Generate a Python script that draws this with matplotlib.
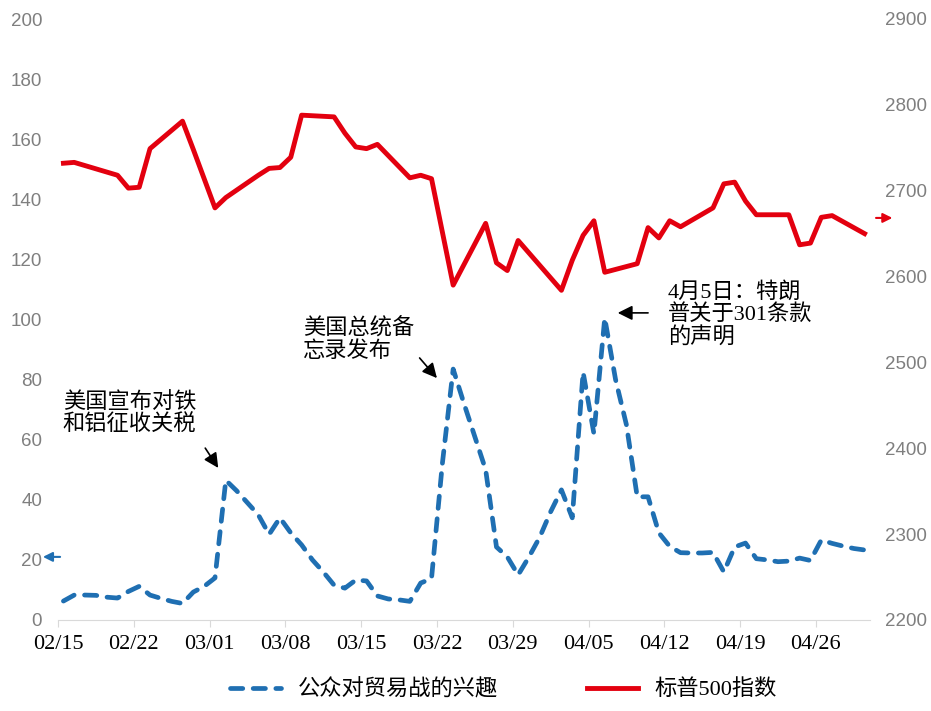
import pandas as pd
import matplotlib
matplotlib.use('Agg')
import matplotlib.pyplot as plt
import matplotlib.dates as mdates

# public interest in the trade war (daily, from 2018-02-15)
interest_start = '2018-02-15'
interest = [6.3, 8.3, 8.3, 8.2, 7.6, 7.3, 9.5, 11.2, 8.3, 7.2,
            6.2, 5.5, 9.3, 11.2, 14, 46.5, 43, 39, 35, 28.5,
            34, 29, 25, 20, 16, 11.6, 10.6, 13.3, 13, 8,
            7, 6.7, 6.2, 12.3, 13.8, 52, 83.5, 72, 61, 50,
            24.3, 21, 15, 21, 27.6, 36, 43.3, 34, 82.5, 62,
            100.5, 80, 65, 41, 41, 29, 24.5, 22.4, 22.3, 22.3,
            22.5, 16, 24.3, 25.6, 20.4, 20, 19.4, 19.6, 20.6, 19.8,
            26.6, 25.5, 24.6, 23.8, 23.3]

# S&P 500 close (trading days)
spx_dates = ['2018-02-15', '2018-02-16', '2018-02-20', '2018-02-21', '2018-02-22',
             '2018-02-23', '2018-02-26', '2018-02-27', '2018-02-28', '2018-03-01',
             '2018-03-02', '2018-03-05', '2018-03-06', '2018-03-07', '2018-03-08',
             '2018-03-09', '2018-03-12', '2018-03-13', '2018-03-14', '2018-03-15',
             '2018-03-16', '2018-03-19', '2018-03-20', '2018-03-21', '2018-03-22',
             '2018-03-23', '2018-03-26', '2018-03-27', '2018-03-28', '2018-03-29',
             '2018-04-02', '2018-04-03', '2018-04-04', '2018-04-05', '2018-04-06',
             '2018-04-09', '2018-04-10', '2018-04-11', '2018-04-12', '2018-04-13',
             '2018-04-16', '2018-04-17', '2018-04-18', '2018-04-19', '2018-04-20',
             '2018-04-23', '2018-04-24', '2018-04-25', '2018-04-26', '2018-04-27',
             '2018-04-30']
spx_close = [2732, 2733, 2718, 2703, 2704, 2749, 2781, 2748, 2714, 2680,
             2692, 2718, 2726, 2727, 2739, 2788, 2786, 2767, 2751, 2749,
             2754, 2715, 2718, 2714, 2652, 2590, 2662, 2616, 2607, 2642,
             2584, 2619, 2648, 2665, 2605, 2615, 2657, 2645, 2665, 2658,
             2680, 2708, 2710, 2688, 2672, 2672, 2637, 2639, 2669, 2671,
             2650]

tick_dates = ['2018-02-15', '2018-02-22', '2018-03-01', '2018-03-08', '2018-03-15',
              '2018-03-22', '2018-03-29', '2018-04-05', '2018-04-12', '2018-04-19',
              '2018-04-26']
series_labels = ['公众对贸易战的兴趣', '标普500指数']
notes = ['美国宣布对铁\n和铝征收关税', '美国总统备\n忘录发布', '4月5日：特朗\n普关于301条款\n的声明']

BLUE = '#1F6FB2'
RED = '#E3000F'
GRAY = '#7f7f7f'
serif_cjk = ['Liberation Serif', 'Noto Sans CJK SC']
plt.rcParams['font.family'] = serif_cjk

fig = plt.figure(figsize=(9.31, 7.11), dpi=100)
ax = fig.add_axes([58/931, 1-620/711, 812/931, 601/711])
ax2 = ax.twinx()

half = pd.Timedelta(hours=12)
x_int = pd.date_range(interest_start, periods=len(interest)) + half
x_spx = pd.to_datetime(spx_dates) + half

l1, = ax.plot(x_int, interest, color=BLUE, lw=3.4, ls=(0, (2.6, 2.2)),
              dash_capstyle='round', zorder=3)
l2, = ax2.plot(x_spx, spx_close, color=RED, lw=3.5, zorder=3)

ax.set_ylim(0, 200)
ax.set_yticks(range(0, 201, 20))
ax2.set_ylim(2200, 2900)
ax2.set_yticks(range(2200, 2901, 100))
ax.set_xlim(pd.Timestamp('2018-02-15'), pd.Timestamp('2018-05-01'))
ax.set_xticks(pd.to_datetime(tick_dates))
ax.xaxis.set_major_formatter(mdates.DateFormatter('%m/%d'))

for s in ['left', 'right', 'top']:
    ax.spines[s].set_visible(False)
for s in ax2.spines.values():
    s.set_visible(False)
ax.spines['bottom'].set_color('#d9d9d9')

ax.tick_params(axis='x', length=5, color='#d9d9d9', labelsize=16, pad=6)
ax.tick_params(axis='y', length=0, labelsize=13.5, labelcolor=GRAY, pad=11.5)
ax2.tick_params(axis='y', length=0, labelsize=13.5, labelcolor=GRAY, pad=11)
plt.setp(ax.get_yticklabels() + ax2.get_yticklabels(), fontfamily='Liberation Sans')

# annotations (x in days after 02/15)
base = mdates.date2num(pd.Timestamp('2018-02-15'))
arrow = dict(arrowstyle='-|>', color='black', lw=1.2, mutation_scale=22, shrinkA=0, shrinkB=0)
ax.annotate('', xy=(base + 14.8, 50.6), xytext=(base + 13.6, 57.2), arrowprops=arrow)
ax.annotate('', xy=(base + 35.0, 80.5), xytext=(base + 33.4, 87.2), arrowprops=arrow)
ax.annotate('', xy=(base + 51.7, 102.2), xytext=(base + 54.5, 102.2), arrowprops=arrow)
ax.text(base + 0.45, 68.7, notes[0], fontsize=16, va='center', ha='left', linespacing=1.1)
ax.text(base + 22.6, 93.2, notes[1], fontsize=16, va='center', ha='left', linespacing=1.1)
ax.text(base + 56.3, 101.5, notes[2], fontsize=16, va='center', ha='left', linespacing=1.1)

# small arrows showing which axis each series uses
ax.annotate('', xy=(-0.022, 0.105), xytext=(0.006, 0.105), xycoords='axes fraction',
            arrowprops=dict(arrowstyle='-|>', color=BLUE, lw=1.5, mutation_scale=14),
            annotation_clip=False)
ax.annotate('', xy=(1.031, 0.669), xytext=(1.004, 0.669), xycoords='axes fraction',
            arrowprops=dict(arrowstyle='-|>', color=RED, lw=1.5, mutation_scale=14),
            annotation_clip=False)

fig.legend([l1, l2], series_labels, loc='center', bbox_to_anchor=(0.541, 0.03), ncol=2,
           frameon=False, prop={'family': serif_cjk, 'size': 16}, handlelength=2.3,
           handletextpad=0.75, columnspacing=4.0)

fig.savefig('out.png', dpi=100)
